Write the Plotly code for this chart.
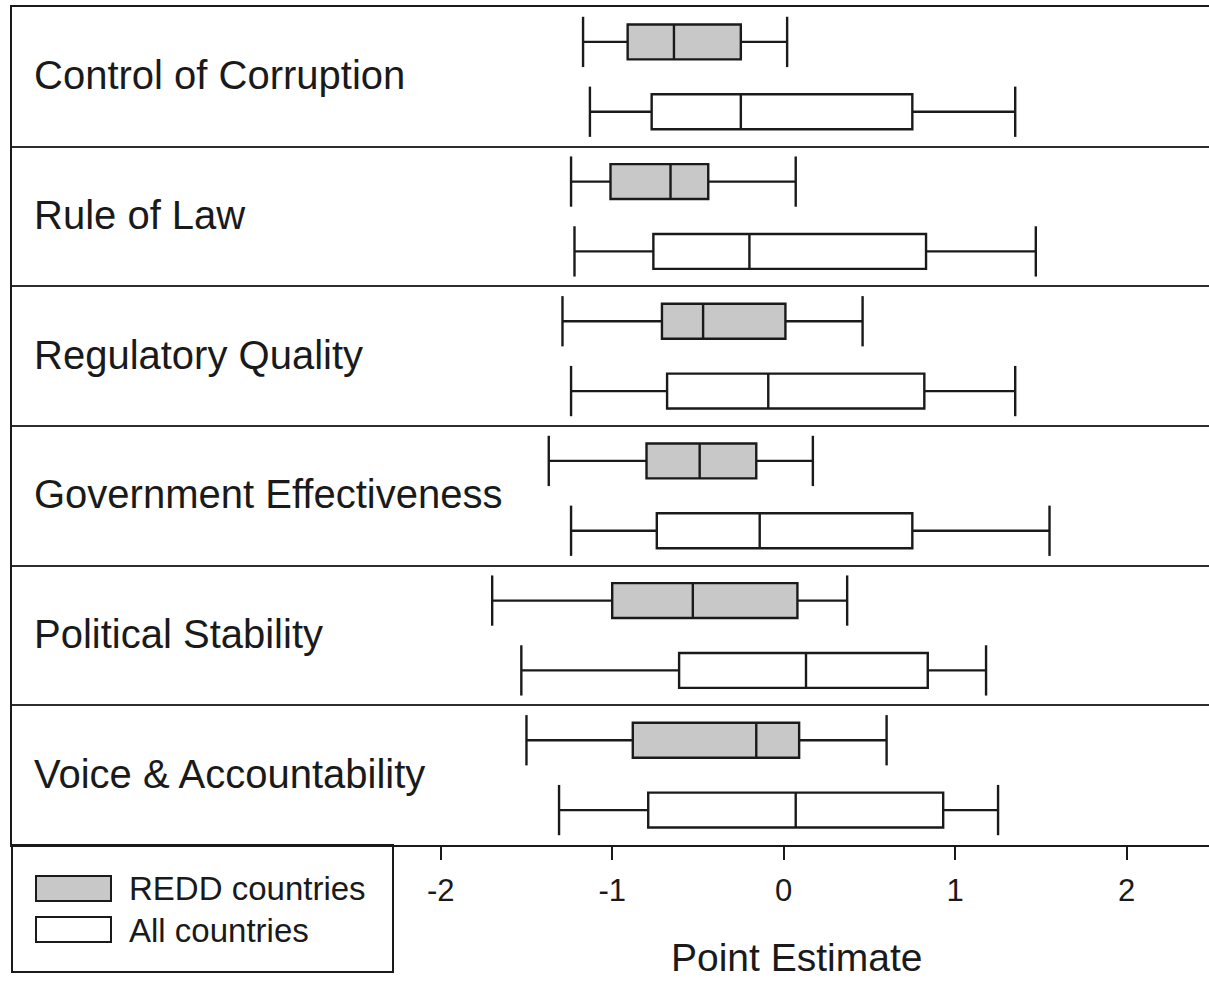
import plotly.graph_objects as go

# Governance indicators, top to bottom
indicators = [
    "Control of Corruption",
    "Rule of Law",
    "Regulatory Quality",
    "Government Effectiveness",
    "Political Stability",
    "Voice & Accountability",
]

# REDD countries: five-number summaries
redd_low = [-1.17, -1.24, -1.29, -1.37, -1.70, -1.50]
redd_q1 = [-0.91, -1.01, -0.71, -0.80, -1.00, -0.88]
redd_med = [-0.64, -0.66, -0.47, -0.49, -0.53, -0.16]
redd_q3 = [-0.25, -0.44, 0.01, -0.16, 0.08, 0.09]
redd_high = [0.02, 0.07, 0.46, 0.17, 0.37, 0.60]

# All countries: five-number summaries
all_low = [-1.13, -1.22, -1.24, -1.24, -1.53, -1.31]
all_q1 = [-0.77, -0.76, -0.68, -0.74, -0.61, -0.79]
all_med = [-0.25, -0.20, -0.09, -0.14, 0.13, 0.07]
all_q3 = [0.75, 0.83, 0.82, 0.75, 0.84, 0.93]
all_high = [1.35, 1.47, 1.35, 1.55, 1.18, 1.25]

x_ticks = [-2, -1, 0, 1, 2]

GRAY = "#c8c8c8"
INK = "#1a1a1a"
FONT = "Liberation Sans, Arial, sans-serif"

n = len(indicators)
BOX_W = 0.25
CAP_H = 0.36

# each indicator occupies one unit band; REDD on top, All below
redd_pos = [n - i - 0.25 for i in range(n)]
all_pos = [n - i - 0.75 for i in range(n)]

fig = go.Figure()


def add_group(pos, low, q1, med, q3, high, fill, name):
    fig.add_trace(go.Box(
        y=pos, q1=q1, median=med, q3=q3,
        lowerfence=low, upperfence=high,
        orientation="h", width=BOX_W, whiskerwidth=0,
        fillcolor=fill, line=dict(color=INK, width=2.4),
        boxpoints=False, name=name, hoverinfo="skip",
    ))
    # whisker end caps
    cx, cy = [], []
    for p, lo, hi in zip(pos, low, high):
        for v in (lo, hi):
            cx += [v, v, None]
            cy += [p - CAP_H / 2, p + CAP_H / 2, None]
    fig.add_trace(go.Scatter(
        x=cx, y=cy, mode="lines",
        line=dict(color=INK, width=2.4),
        hoverinfo="skip", showlegend=False,
    ))


add_group(redd_pos, redd_low, redd_q1, redd_med, redd_q3, redd_high, GRAY, "REDD countries")
add_group(all_pos, all_low, all_q1, all_med, all_q3, all_high, "#ffffff", "All countries")

# indicator names on the left of each band
for i, label in enumerate(indicators):
    fig.add_annotation(
        x=-4.385, y=n - i - 0.5 + 0.01, xref="x", yref="y",
        text=label, showarrow=False, xanchor="left", yanchor="middle",
        font=dict(family=FONT, size=40, color=INK),
    )

# plot-area geometry (pixels) used for the panel below the axis
W, H = 1209, 982
L, T, B = 12, 7, 137
plot_h = H - T - B


def py(ypix):
    return (H - B - ypix) / plot_h


def px(xpix):
    return (xpix - L) / (W - L)


shapes = [
    # legend frame
    dict(type="rect", xref="paper", yref="paper",
         x0=px(L), x1=px(393), y0=py(972), y1=py(845),
         line=dict(color=INK, width=2), fillcolor="rgba(0,0,0,0)", layer="above"),
    # legend swatches
    dict(type="rect", xref="paper", yref="paper",
         x0=px(36), x1=px(111), y0=py(901), y1=py(876),
         line=dict(color=INK, width=2), fillcolor=GRAY),
    dict(type="rect", xref="paper", yref="paper",
         x0=px(36), x1=px(111), y0=py(942), y1=py(917),
         line=dict(color=INK, width=2), fillcolor="#ffffff"),
]
fig.add_annotation(x=px(127), y=py(888), xref="paper", yref="paper",
                   text="REDD countries", showarrow=False, xanchor="left", yanchor="middle",
                   font=dict(family=FONT, size=33, color=INK))
fig.add_annotation(x=px(127), y=py(930), xref="paper", yref="paper",
                   text="All countries", showarrow=False, xanchor="left", yanchor="middle",
                   font=dict(family=FONT, size=33, color=INK))

# x-axis title, centred under the data region
fig.add_annotation(x=px(796), y=py(957), xref="paper", yref="paper",
                   text="Point Estimate", showarrow=False, xanchor="center", yanchor="middle",
                   font=dict(family=FONT, size=39, color=INK))

fig.update_layout(
    width=W, height=H,
    margin=dict(l=L, r=0, t=T, b=B),
    paper_bgcolor="white", plot_bgcolor="white",
    showlegend=False, shapes=shapes,
    xaxis=dict(
        range=[-4.5, 2.48], tickvals=x_ticks, ticktext=[str(v) for v in x_ticks],
        ticks="outside", ticklen=13, tickwidth=1.5, tickcolor=INK,
        ticklabelstandoff=4,
        showline=True, linecolor=INK, linewidth=2.2, mirror=True,
        showgrid=False, zeroline=False,
        tickfont=dict(family=FONT, size=31, color=INK),
    ),
    yaxis=dict(
        range=[0, n], tickvals=list(range(1, n)), showticklabels=False,
        ticks="", showgrid=True, gridcolor="#2e2e2e", gridwidth=1.8,
        showline=True, linecolor=INK, linewidth=2.2,
        zeroline=False,
    ),
)

fig.write_html("out.html")
